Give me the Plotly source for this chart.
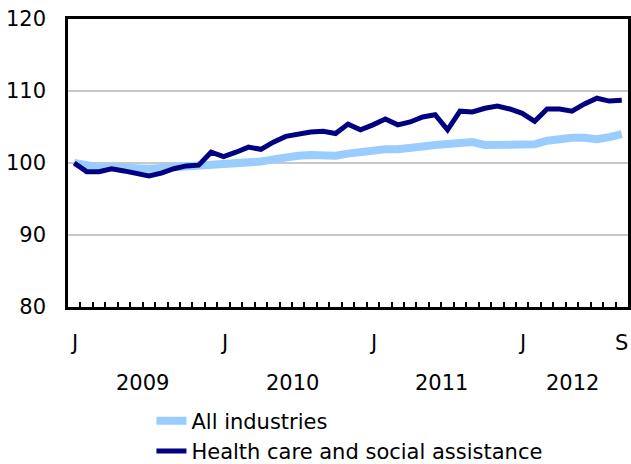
import plotly.graph_objects as go

months = list(range(45))
all_industries = [100.0, 99.6, 99.4, 99.4, 99.3, 99.3, 99.2, 99.3, 99.4, 99.6, 99.7, 99.7,
                  99.8, 99.9, 100.0, 100.2, 100.5, 100.8, 101.0, 101.1, 101.1, 101.0, 101.3, 101.5,
                  101.8, 101.9, 101.9, 102.2, 102.3, 102.5, 102.6, 102.6, 102.9, 102.5, 102.5, 102.6,
                  102.6, 102.6, 103.1, 103.4, 103.5, 103.5, 103.3, 103.6, 104.0]
health_care = [100.0, 98.8, 98.8, 99.2, 98.9, 98.5, 98.2, 98.6, 99.2, 99.6, 99.7, 101.5,
               100.9, 101.5, 102.2, 101.9, 102.9, 103.7, 104.0, 104.3, 104.4, 104.1, 105.4, 104.6,
               105.3, 106.1, 105.3, 105.7, 106.4, 106.7, 104.6, 107.2, 107.1, 107.6, 107.9, 107.5,
               106.9, 105.8, 107.5, 107.5, 107.2, 108.2, 109.0, 108.6, 108.7]
month_label_pos = [0, 12, 24, 36, 44]
month_labels = ["J", "J", "J", "J", "S"]
year_label_pos = [5.5, 17.5, 29.5, 40]
year_labels = ["2009", "2010", "2011", "2012"]
y_ticks = [80, 90, 100, 110, 120]

FONT = "DejaVu Sans"
FS = 21

fig = go.Figure()
fig.add_trace(go.Scatter(x=months, y=all_industries, mode="lines", name="All industries",
                         line=dict(color="#99CCFF", width=8)))
fig.add_trace(go.Scatter(x=months, y=health_care, mode="lines",
                         name="Health care and social assistance",
                         line=dict(color="#000080", width=5)))

for pos, lab in zip(month_label_pos, month_labels):
    fig.add_annotation(x=pos, y=-0.125, xref="x", yref="paper", text=lab, showarrow=False,
                       font=dict(family=FONT, size=FS, color="black"), yanchor="middle")
for pos, lab in zip(year_label_pos, year_labels):
    fig.add_annotation(x=pos, y=-0.265, xref="x", yref="paper", text=lab, showarrow=False,
                       font=dict(family=FONT, size=FS, color="black"), yanchor="middle")

fig.update_layout(
    width=631, height=464,
    margin=dict(l=68, r=3, t=19, b=157, autoexpand=False),
    plot_bgcolor="white", paper_bgcolor="white",
    font=dict(family=FONT, size=FS, color="black"),
    showlegend=True,
    legend=dict(x=0.149, y=-0.325, xanchor="left", yanchor="top", orientation="v",
                bgcolor="rgba(0,0,0,0)", font=dict(family=FONT, size=FS),
                tracegroupgap=0, itemwidth=30),
    xaxis=dict(range=[-0.5, 44.5], tickmode="linear", tick0=0.5, dtick=1,
               ticks="inside", ticklen=5, tickwidth=1.5, tickcolor="black",
               showticklabels=False, showgrid=False, zeroline=False, automargin=False,
               showline=True, linecolor="black", linewidth=2.5, mirror=True),
    yaxis=dict(range=[80, 120], tickvals=y_ticks, ticks="", showgrid=True,
               gridcolor="#C8C8C8", gridwidth=2, zeroline=False, automargin=False,
               showline=True, linecolor="black", linewidth=2.5, mirror=True,
               ticklabelstandoff=15),
)

fig.write_html("out.html", config={"displayModeBar": False},
               post_script="document.body.style.margin='0';document.body.style.overflow='hidden';")
